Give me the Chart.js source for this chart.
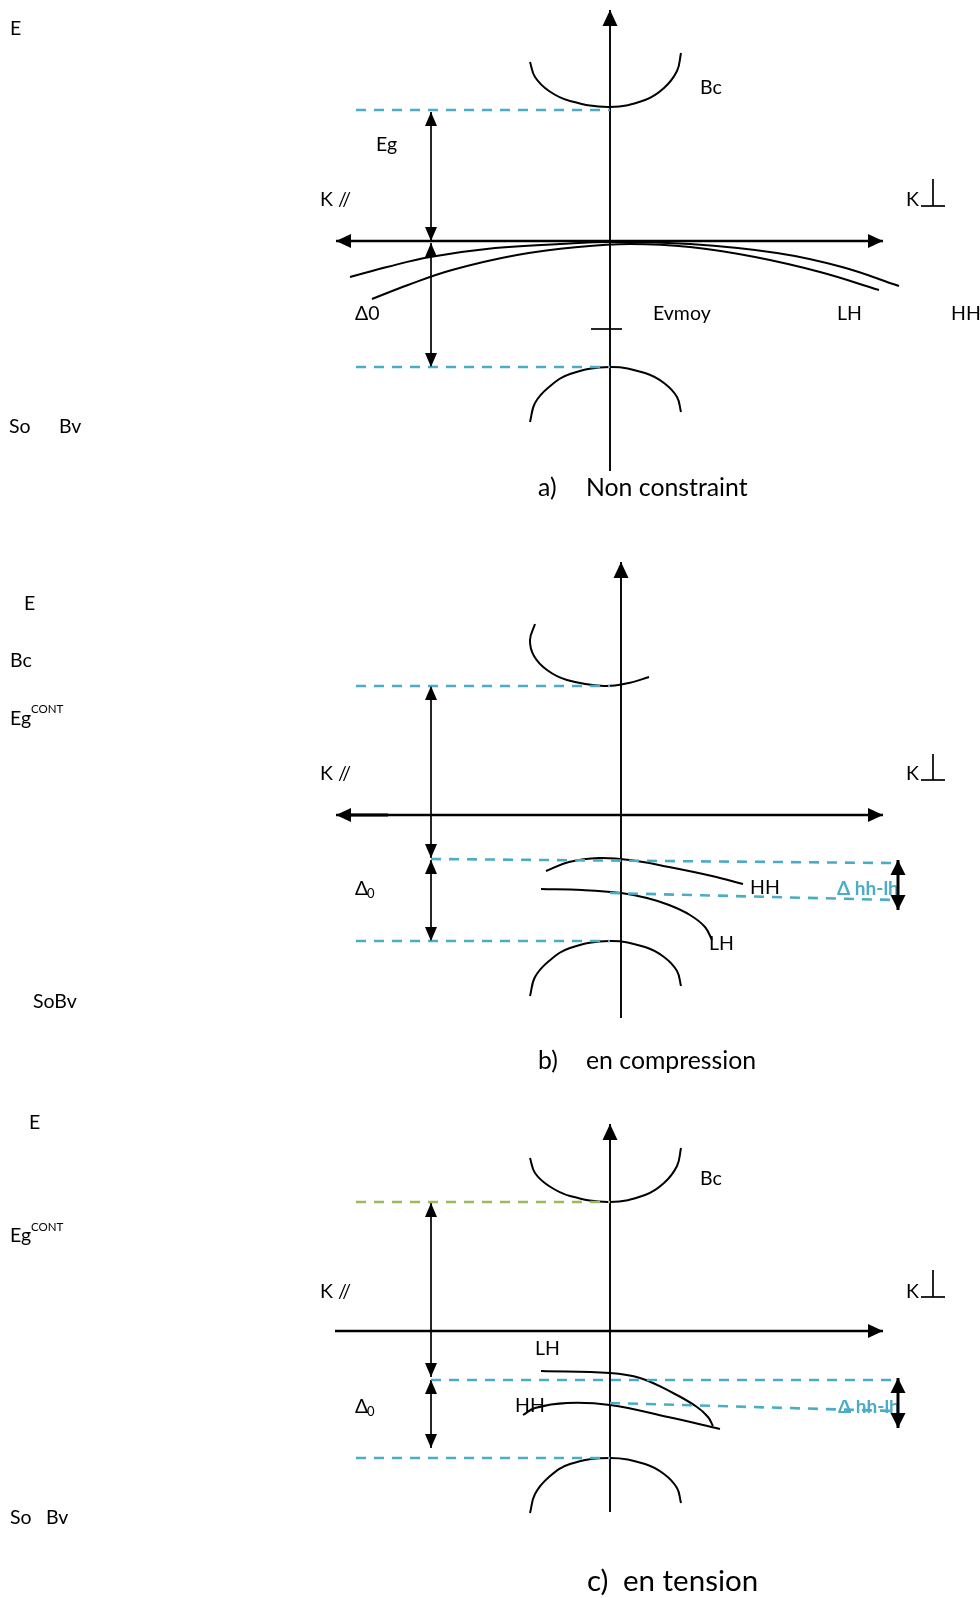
<!DOCTYPE html>
<html>
<head>
<meta charset="utf-8">
<title>Bandes de valence : non contraint, compression, tension</title>
<script src="https://cdn.jsdelivr.net/npm/chart.js@4.4.1/dist/chart.umd.min.js"></script>
<style>
  html, body { margin: 0; padding: 0; background: #ffffff; }
  #wrap { width: 980px; height: 1598px; }
</style>
</head>
<body>
<div id="wrap"><canvas id="bands" width="980" height="1598"></canvas></div>
<script>
// Diagram units: x to the right, y downwards (E increases upwards on the figure).

// ---------- a) Non constraint ----------
const axisA_E   = [[610, 471], [610, 10]];
const axisA_k   = [[336, 241], [883, 241]];
const bcA       = [[530, 62], [535, 77], [549, 91], [570, 101], [610, 107], [645, 100], [664, 88], [677, 71], [681, 53]];
const soA       = [[530, 422], [535, 403], [549, 387], [570, 374], [610, 367], [645, 373], [664, 383], [677, 397], [681, 412]];
const hhA       = [[350, 277], [387, 267], [430, 257], [495, 248], [560, 244], [610, 242], [690, 244], [777, 253], [842, 267], [899, 286]];
const lhA       = [[372, 299], [408, 285], [452, 270], [517, 255], [578, 247], [630, 244], [690, 247], [755, 257], [820, 272], [879, 290]];
const egA       = [[431, 112], [431, 241]];
const d0A       = [[431, 243], [431, 367]];
const levelsA   = [[[356, 110], [610, 110]], [[356, 367], [610, 367]]];
const evmoyA    = [[591, 329], [622, 329]];
const perpA     = [[[933, 179], [933, 206]], [[921, 206], [945, 206]]];

// ---------- b) en compression ----------
const axisB_E   = [[621, 1018], [621, 562]];
const axisB_k   = [[336, 815], [883, 815]];
const stubB_k   = [[342, 815], [388, 815]];
const bcB       = [[535, 624], [530, 640], [534, 656], [547, 670], [567, 680], [604, 686], [629, 683], [649, 677]];
const soB       = [[530, 996], [535, 977], [549, 961], [570, 948], [610, 941], [645, 947], [664, 957], [677, 971], [681, 986]];
const hhB       = [[546, 871], [569, 862], [599, 858], [630, 860], [669, 867], [712, 876], [743, 884]];
const lhB       = [[541, 889], [582, 890], [621, 893], [647, 898], [669, 905], [690, 915], [705, 927], [712, 940]];
const egB       = [[431, 686], [431, 858]];
const d0B       = [[431, 860], [431, 941]];
const levelsB   = [[[356, 686], [610, 686]], [[431, 859], [892, 863]], [[356, 941], [610, 941]], [[610, 893], [894, 900]]];
const dhhB      = [[898, 860], [898, 910]];
const perpB     = [[[933, 754], [933, 780]], [[921, 780], [945, 780]]];

// ---------- c) en tension ----------
const axisC_E   = [[610, 1512], [610, 1124]];
const axisC_k   = [[335, 1331], [883, 1331]];
const bcC       = [[530, 1158], [535, 1173], [549, 1186], [570, 1196], [610, 1202], [645, 1195], [664, 1183], [677, 1166], [681, 1148]];
const soC       = [[530, 1513], [535, 1494], [549, 1477], [570, 1464], [610, 1458], [645, 1464], [664, 1474], [677, 1488], [681, 1503]];
const lhC       = [[541, 1371], [610, 1373], [640, 1378], [673, 1393], [697, 1407], [708, 1417], [713, 1426]];
const hhC       = [[523, 1415], [535, 1408], [567, 1403], [610, 1405], [668, 1417], [720, 1429]];
const egC       = [[431, 1203], [431, 1377]];
const d0C       = [[431, 1380], [431, 1448]];
const gapLevelC = [[356, 1202], [610, 1202]];
const levelsC   = [[[431, 1380], [892, 1380]], [[356, 1458], [610, 1458]], [[610, 1403], [894, 1411]]];
const dhhC      = [[898, 1378], [898, 1428]];
const perpC     = [[[933, 1270], [933, 1297]], [[921, 1297], [945, 1297]]];

// Text: [text, x, y, kind]
const labelsA = [
  ['E', 10, 29, 'lbl'], ['Bc', 700, 88, 'lbl'], ['Eg', 376, 145, 'lbl'],
  ['K //', 320, 200, 'lbl'], ['K', 906, 200, 'lbl'],
  ['Δ0', 355, 314, 'lbl'], ['Evmoy', 653, 314, 'lbl'], ['LH', 837, 314, 'lbl'], ['HH', 951, 314, 'lbl'],
  ['So', 9, 427, 'lbl'], ['Bv', 59, 427, 'lbl'],
  ['a)', 538, 488, 'title'], ['Non constraint', 586, 488, 'title']
];
const labelsB = [
  ['E', 24, 604, 'lbl'], ['Bc', 10, 661, 'lbl'], ['Eg', 10, 719, 'lbl'], ['CONT', 31, 709, 'sup'],
  ['K //', 320, 774, 'lbl'], ['K', 906, 774, 'lbl'],
  ['Δ', 355, 889, 'lbl'], ['0', 367, 894, 'sub'],
  ['HH', 750, 888, 'lbl'], ['Δ hh-lh', 837, 889, 'delta'], ['LH', 709, 944, 'lbl'],
  ['SoBv', 33, 1002, 'lbl'],
  ['b)', 538, 1061, 'title'], ['en compression', 586, 1061, 'title']
];
const labelsC = [
  ['E', 29, 1123, 'lbl'], ['Bc', 700, 1179, 'lbl'], ['Eg', 10, 1236, 'lbl'], ['CONT', 31, 1227, 'sup'],
  ['K //', 320, 1292, 'lbl'], ['K', 906, 1292, 'lbl'],
  ['LH', 535, 1349, 'lbl'], ['HH', 515, 1406, 'lbl'],
  ['Δ', 355, 1407, 'lbl'], ['0', 367, 1412, 'sub'],
  ['Δ hh-lh', 838, 1407, 'delta'],
  ['So', 10, 1518, 'lbl'], ['Bv', 46, 1518, 'lbl'],
  ['c)', 587, 1581, 'titleC'], ['en tension', 623, 1581, 'titleC']
];

// Visible windows of the Δ hh-lh boxes (x1, y1, x2, y2)
const deltaBoxB = [830, 870, 897, 910];
const deltaBoxC = [830, 1400, 897, 1420];

// ---------- styles ----------
const INK = '#000000';
const CYAN = '#4bacc6';
const OLIVE = '#9bbb59';
const FONT = 'Lato, "Open Sans", "DejaVu Sans", sans-serif';
const TEXT_STYLE = {
  lbl:    { font: '19.5px ' + FONT, color: INK },
  title:  { font: '24.8px ' + FONT, color: INK },
  titleC: { font: '29.5px ' + FONT, color: INK },
  sup:    { font: '11.5px ' + FONT, color: INK },
  sub:    { font: '13px ' + FONT, color: INK },
  delta:  { font: 'bold 19px ' + FONT, color: CYAN }
};

const toPts = arr => arr.map(([x, y]) => ({ x, y }));
function seg(arr, opts) {
  return Object.assign({
    data: toPts(arr), showLine: true, pointRadius: 0, pointHoverRadius: 0,
    borderColor: INK, backgroundColor: INK, borderWidth: 1.7, tension: 0, fill: false, clip: false
  }, opts || {});
}
const curve  = arr => seg(arr, { tension: 0.4, borderWidth: 2 });
const dashed = (arr, color) => seg(arr, { borderColor: color || CYAN, borderWidth: 2.6, borderDash: [10, 8] });
const arrow  = (arr, ends, size, width) => seg(arr, { arrow: ends, arrowSize: size, borderWidth: width || 1.7 });

const datasets = [];
function panel(p) {
  p.levels.forEach(l => datasets.push(dashed(l)));
  if (p.gap) datasets.push(dashed(p.gap, OLIVE));
  datasets.push(arrow(p.axisE, 'end', [16, 15], 1.9));
  datasets.push(arrow(p.axisK, p.kEnds, [15, 14], 2.4));
  datasets.push(curve(p.bc), curve(p.so), curve(p.hh), curve(p.lh));
  datasets.push(arrow(p.eg, 'both', [14, 12]), arrow(p.d0, 'both', [14, 12]));
  p.perp.forEach(s => datasets.push(seg(s, { borderWidth: 1.7 })));
  (p.extra || []).forEach(d => datasets.push(d));
}
panel({ levels: levelsA, axisE: axisA_E, axisK: axisA_k, kEnds: 'both', bc: bcA, so: soA, hh: hhA, lh: lhA,
        eg: egA, d0: d0A, perp: perpA, extra: [seg(evmoyA, { borderWidth: 1.7 })] });
panel({ levels: levelsB, axisE: axisB_E, axisK: axisB_k, kEnds: 'both', bc: bcB, so: soB, hh: hhB, lh: lhB,
        eg: egB, d0: d0B, perp: perpB,
        extra: [seg(stubB_k, { borderWidth: 3.2 }), arrow(dhhB, 'both', [15, 15], 3)] });
panel({ levels: levelsC, gap: gapLevelC, axisE: axisC_E, axisK: axisC_k, kEnds: 'end', bc: bcC, so: soC, hh: hhC, lh: lhC,
        eg: egC, d0: d0C, perp: perpC, extra: [arrow(dhhC, 'both', [15, 15], 3)] });

// Filled triangular heads at the ends of arrow datasets
const arrowHeads = {
  id: 'arrowHeads',
  afterDatasetsDraw(chart) {
    const ctx = chart.ctx;
    chart.data.datasets.forEach((ds, i) => {
      if (!ds.arrow) return;
      const els = chart.getDatasetMeta(i).data;
      const n = els.length;
      const [L, W] = ds.arrowSize;
      const head = (tip, from) => {
        const ang = Math.atan2(tip.y - from.y, tip.x - from.x);
        ctx.save();
        ctx.translate(tip.x, tip.y);
        ctx.rotate(ang);
        ctx.beginPath();
        ctx.moveTo(0, 0);
        ctx.lineTo(-L, W / 2);
        ctx.lineTo(-L, -W / 2);
        ctx.closePath();
        ctx.fillStyle = ds.borderColor;
        ctx.fill();
        ctx.restore();
      };
      if (ds.arrow === 'end' || ds.arrow === 'both') head(els[n - 1], els[n - 2]);
      if (ds.arrow === 'start' || ds.arrow === 'both') head(els[0], els[1]);
    });
  }
};

// Text labels placed in diagram units through the chart scales
const diagramText = {
  id: 'diagramText',
  beforeDatasetsDraw(chart) {
    const { ctx, scales: { x, y } } = chart;
    const put = (list, box) => list.forEach(([t, tx, ty, kind]) => {
      const st = TEXT_STYLE[kind];
      ctx.save();
      if (kind === 'delta' && box) {
        ctx.beginPath();
        ctx.rect(x.getPixelForValue(box[0]), y.getPixelForValue(box[1]),
                 x.getPixelForValue(box[2]) - x.getPixelForValue(box[0]),
                 y.getPixelForValue(box[3]) - y.getPixelForValue(box[1]));
        ctx.clip();
      }
      ctx.font = st.font;
      ctx.fillStyle = st.color;
      ctx.textAlign = 'left';
      ctx.textBaseline = 'middle';
      ctx.fillText(t, x.getPixelForValue(tx), y.getPixelForValue(ty));
      ctx.restore();
    });
    put(labelsA, null);
    put(labelsB, deltaBoxB);
    put(labelsC, deltaBoxC);
  }
};

new Chart(document.getElementById('bands'), {
  type: 'scatter',
  data: { datasets },
  options: {
    responsive: false,
    devicePixelRatio: 1,
    animation: false,
    events: [],
    layout: { padding: 0 },
    scales: {
      x: { type: 'linear', min: 0, max: 980, display: false },
      y: { type: 'linear', min: 0, max: 1598, reverse: true, display: false }
    },
    plugins: { legend: { display: false }, tooltip: { enabled: false } }
  },
  plugins: [diagramText, arrowHeads]
});
</script>
</body>
</html>
